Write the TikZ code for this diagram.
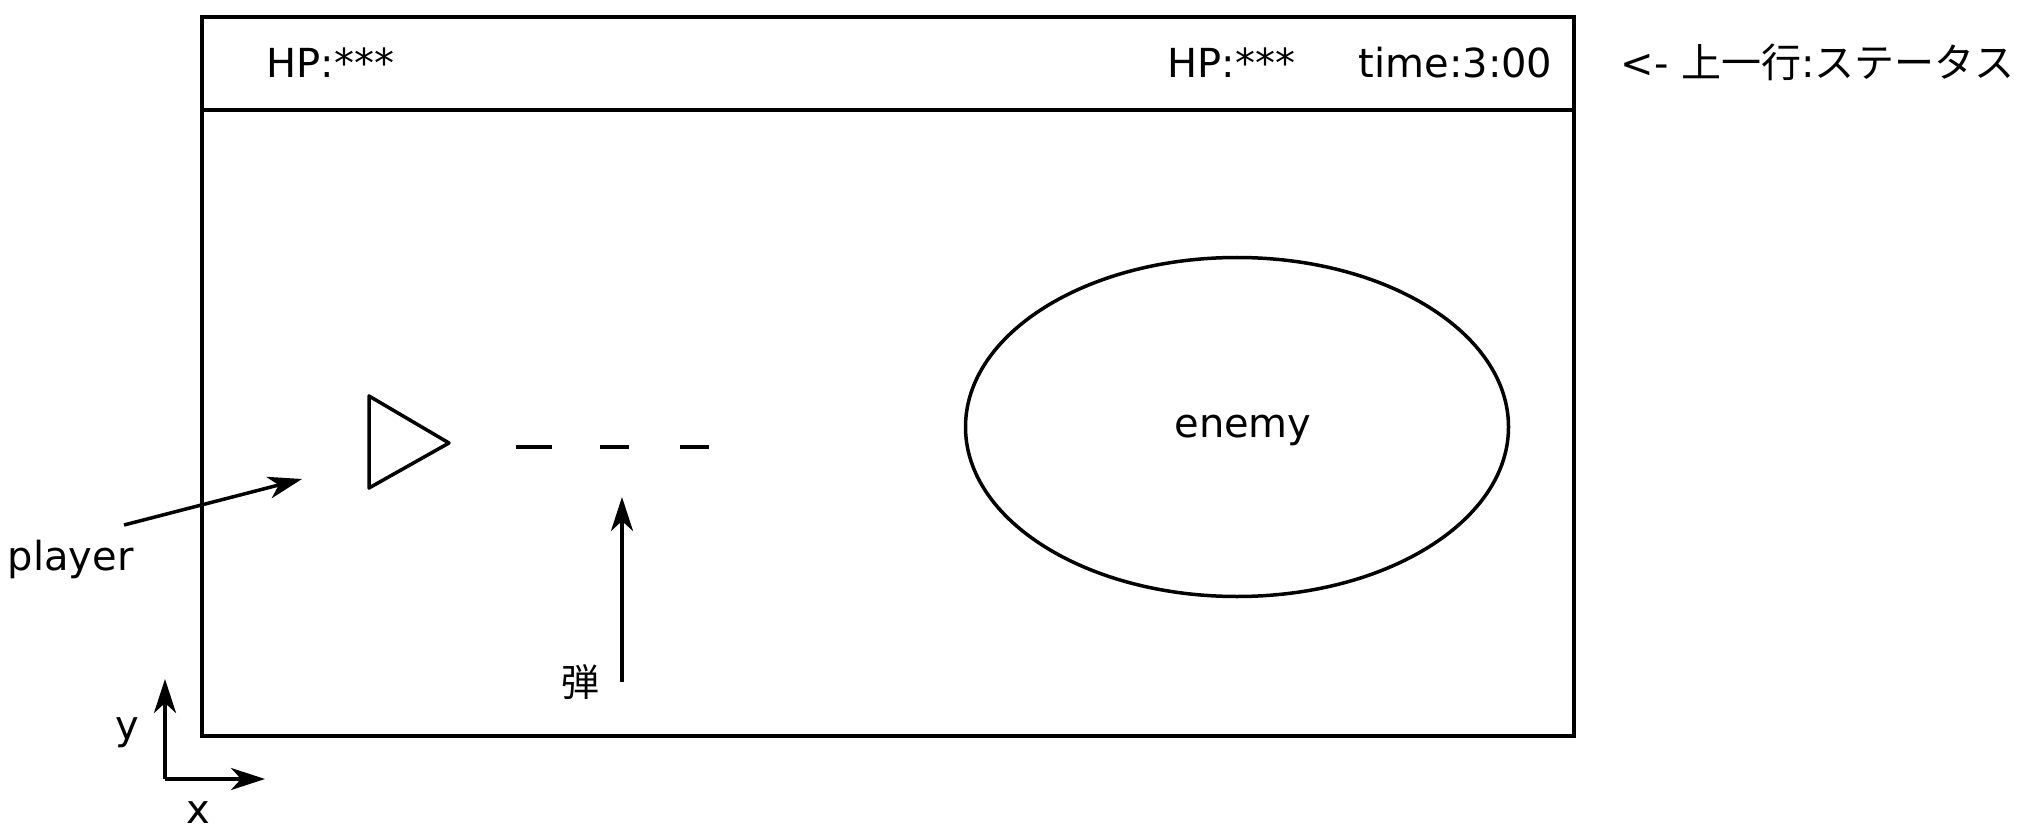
\documentclass[tikz,border=0pt]{standalone}
\usepackage{fontspec}
\setmainfont{DejaVu Sans}
\newfontfamily\jpfont{Noto Sans CJK JP}
\usetikzlibrary{arrows.meta,shapes.geometric}
\begin{document}
\begin{tikzpicture}[x=1pt,y=-1pt,line width=3.5pt,
  lbl/.style={inner sep=0pt,font=\fontsize{40}{48}\selectfont},
  arr/.style={-{Stealth[length=34pt,width=22pt,inset=10pt]}}]
\useasboundingbox (0,0) rectangle (2018,826);
% screen frame
\draw (202,17) rectangle (1574,736);
\draw (202,110) -- (1574,110);
% status texts
\node[lbl,anchor=base west] (hp1) at (265,78) {HP:***};
\node[lbl,anchor=base west] (hp2) at (1166,78) {HP:***};
\node[lbl,anchor=base west] (time) at (1357,78) {time:3:00};
\node[lbl,anchor=base west] (status) at (1619,78) {<- {\jpfont 上一行}:{\jpfont ステータス}};
% enemy
\node[draw,ellipse,inner sep=0pt,minimum width=543pt,minimum height=339pt] (enemy) at (1237,427) {};
\node[lbl] (enemylbl) at (1243,430) {enemy};
% player triangle
\coordinate (t1) at (369,396);
\coordinate (t2) at (369,488);
\coordinate (t3) at (449,443);
\draw[line join=round] (t1) -- (t3) -- (t2) -- cycle;
% bullets
\coordinate (b1a) at (516,447); \coordinate (b1b) at (552,447);
\coordinate (b2a) at (600,447); \coordinate (b2b) at (629,447);
\coordinate (b3a) at (680,447); \coordinate (b3b) at (709,447);
\draw (b1a) -- (b1b);
\draw (b2a) -- (b2b);
\draw (b3a) -- (b3b);
% player label and arrow
\node[lbl,anchor=base west] (player) at (6,570) {player};
\coordinate (ps) at (124,525);
\coordinate (pe) at (302,479);
\draw[arr] (ps) -- (pe);
% bullet label and arrow
\node[lbl,font=\fontsize{38}{46}\jpfont] (tama) at (580,682) {弾};
\coordinate (bs) at (622,682);
\coordinate (be) at (622,497);
\draw[arr] (bs) -- (be);
% axes
\coordinate (o) at (165,779);
\coordinate (ye) at (165,679);
\coordinate (xe) at (265,779);
\draw[arr] (o) -- (ye);
\draw[arr] (o) -- (xe);
\node[lbl] (ylab) at (127,733) {y};
\node[lbl] (xlab) at (198,813) {x};
\end{tikzpicture}
\end{document}
